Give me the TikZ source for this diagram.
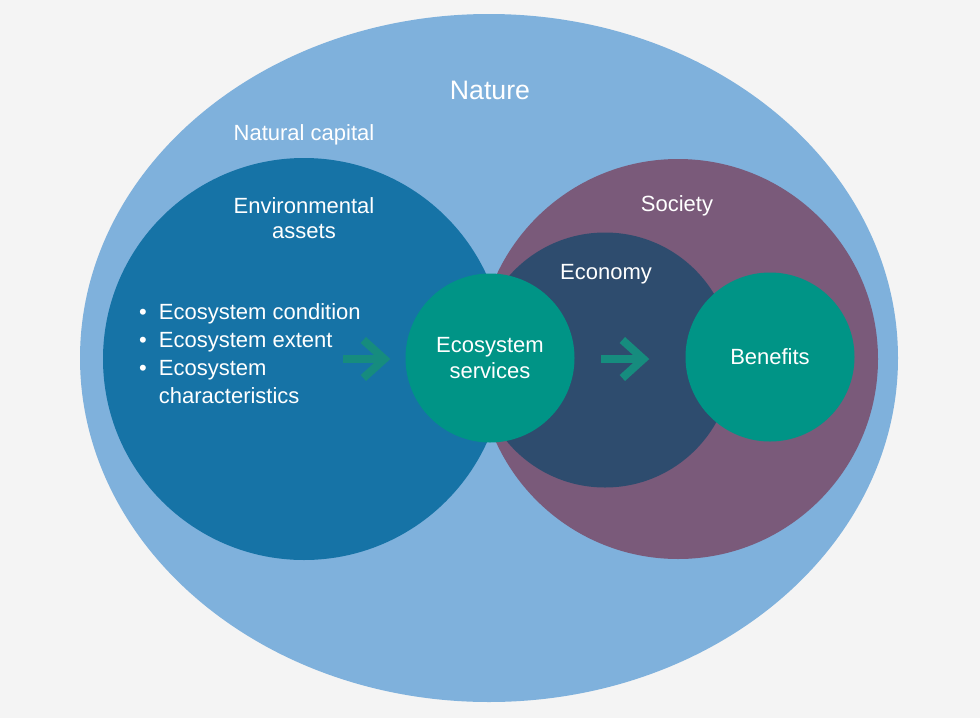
\documentclass[tikz,border=0pt]{standalone}
\usepackage{fontspec}
\setmainfont{Liberation Sans}
\usetikzlibrary{arrows.meta}

\definecolor{bggray}{HTML}{F4F4F4}
\definecolor{natureblue}{HTML}{7FB1DC}
\definecolor{envblue}{HTML}{1673A6}
\definecolor{socpurple}{HTML}{7A5A7A}
\definecolor{econnavy}{HTML}{2E4C6E}
\definecolor{esteal}{HTML}{009486}
\definecolor{arrteal}{HTML}{168C7E}

\begin{document}
\begin{tikzpicture}[x=1pt,y=-1pt,
  disc/.style={circle, inner sep=0, minimum size=#1},
  lbl/.style={text=white, font=\fontsize{22}{25.5}\selectfont, align=center},
  flow/.style={draw=arrteal, line width=8pt, -{Straight Barb[length=21pt,width=38pt]}}]
\fill[bggray] (0,0) rectangle (980,718);
\useasboundingbox (0,0) rectangle (980,718);
\fill[natureblue] (489,358) ellipse (409 and 344);
\node[disc=402, fill=envblue] (env) at (304,359) {};
\node[disc=400, fill=socpurple] (soc) at (678,359) {};
\node[disc=255, fill=econnavy] (econ) at (605,360) {};
\node[disc=169, fill=esteal, lbl] (es) at (490,358) {Ecosystem\\services};
\node[disc=169, fill=esteal, lbl] (ben) at (770,357) {Benefits};
\node[lbl, font=\fontsize{26.7}{30}\selectfont] (nature) at (490,90) {Nature};
\node[lbl] (natcap) at (304,135) {Natural capital};
\node[lbl] (envlbl) at (304,218) {Environmental\\assets};
\node[lbl] (soclbl) at (677,206) {Society};
\node[lbl] (econlbl) at (606,274) {Economy};
\node[text=white, anchor=base west, inner sep=0, font=\fontsize{22}{28}\selectfont] (items) at (139,319)
  {\begin{tabular}[t]{@{}l@{\hspace{12pt}}l@{}}
   \textbullet & Ecosystem condition\\
   \textbullet & Ecosystem extent\\
   \textbullet & Ecosystem\\
               & characteristics
   \end{tabular}};
\coordinate (a1) at (343,359);
\coordinate (a2) at (601,359);
\draw[flow] (a1) -- ([xshift=-15pt,yshift=-1pt]es.west);
\draw[flow] (a2) -- ([xshift=-36pt,yshift=-2pt]ben.west);
\end{tikzpicture}
\end{document}
